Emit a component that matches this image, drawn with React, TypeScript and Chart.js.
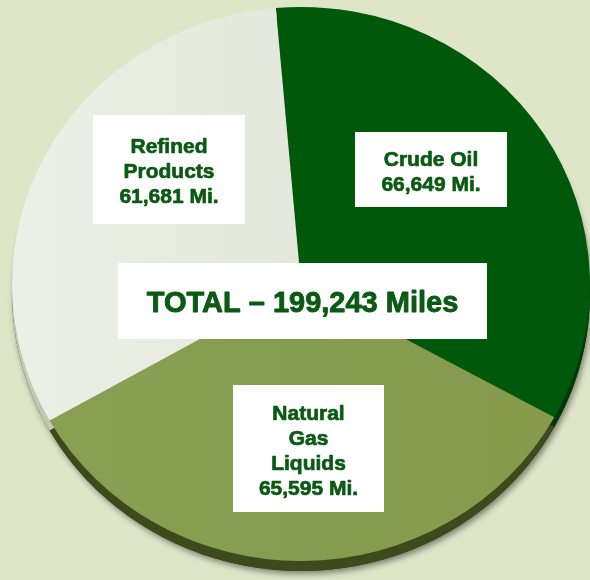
import React, { useEffect, useRef } from "react";
import { Chart, registerables } from "chart.js";

Chart.register(...registerables);

// ---- data ----
const categories = ["Crude Oil", "Natural Gas Liquids", "Refined Products"];
const miles = [66649, 65595, 61681];
const totalMiles = 199243;
const fmt = (n: number) => n.toLocaleString("en-US");
const labelLines: string[][] = [
  ["Crude Oil", `${fmt(miles[0])} Mi.`],
  ["Natural", "Gas", "Liquids", `${fmt(miles[1])} Mi.`],
  ["Refined", "Products", `${fmt(miles[2])} Mi.`],
];
const totalLabel = `TOTAL \u2013 ${fmt(totalMiles)} Miles`;

// ---- styles ----
const sliceColors = ["#00580a", "#889c4e", "#e7eadf"];
const rimColors = ["#003806", "#3d4a1b", "#c4c8b4"];
const bgColor = "#dfe6c8";
const textColor = "#0b5a13";
const FONT = '"Liberation Sans", Arial, sans-serif';
const STRETCH = 1.043;
const RIM = 10;

// label boxes [x, y, w, h]
const sliceBoxes = [
  [355, 132, 152, 75],
  [233, 385, 151, 127],
  [93, 115, 152, 109],
];
const totalBox = [118, 263, 369, 76];

function boldText(ctx: CanvasRenderingContext2D, t: string, x: number, y: number) {
  ctx.fillText(t, x, y);
  ctx.strokeText(t, x, y);
}

const pie3dPlugin = {
  id: "pie3d",
  beforeDatasetsDraw(chart: any) {
    const ctx = chart.ctx as CanvasRenderingContext2D;
    const meta = chart.getDatasetMeta(0);
    const a0 = meta.data[0] as any;
    const cx = a0.x;
    const cy = a0.y;
    const r = a0.outerRadius;
    ctx.save();
    ctx.translate(cx, 0);
    ctx.scale(STRETCH, 1);
    ctx.translate(-cx, 0);
    // rim + shadow
    ctx.save();
    ctx.shadowColor = "rgba(0,0,0,0.45)";
    ctx.shadowBlur = 6;
    ctx.shadowOffsetX = 2;
    ctx.shadowOffsetY = 3;
    ctx.beginPath();
    ctx.arc(cx, cy + RIM, r, 0, Math.PI * 2);
    ctx.fillStyle = rimColors[1];
    ctx.fill();
    ctx.restore();
    meta.data.forEach((a: any, i: number) => {
      ctx.beginPath();
      ctx.moveTo(cx, cy + RIM);
      ctx.arc(cx, cy + RIM, r, a.startAngle, a.endAngle);
      ctx.closePath();
      ctx.fillStyle = rimColors[i];
      ctx.fill();
    });
  },
  afterDatasetsDraw(chart: any) {
    const ctx = chart.ctx as CanvasRenderingContext2D;
    ctx.restore();
    ctx.save();
    ctx.textAlign = "center";
    ctx.textBaseline = "alphabetic";
    ctx.lineJoin = "round";
    // slice labels
    labelLines.forEach((lines, i) => {
      const [x, y, w, h] = sliceBoxes[i];
      ctx.fillStyle = "#ffffff";
      ctx.fillRect(x, y, w, h);
      ctx.fillStyle = textColor;
      ctx.strokeStyle = textColor;
      ctx.lineWidth = 0.7;
      ctx.font = `bold 21px ${FONT}`;
      const mid = y + h / 2 + 1;
      lines.forEach((t, j) => {
        const cyLine = mid + (j - (lines.length - 1) / 2) * 25;
        boldText(ctx, t, x + w / 2, cyLine + 7.5);
      });
    });
    // total
    const [tx, ty, tw, th] = totalBox;
    ctx.fillStyle = "#ffffff";
    ctx.fillRect(tx, ty, tw, th);
    ctx.fillStyle = textColor;
    ctx.strokeStyle = textColor;
    ctx.lineWidth = 0.9;
    ctx.font = `bold 29px ${FONT}`;
    boldText(ctx, totalLabel, tx + tw / 2, ty + th / 2 + 1 + 10.4);
    ctx.restore();
  },
};

export default function App() {
  const ref = useRef<HTMLCanvasElement | null>(null);
  useEffect(() => {
    if (!ref.current) return;
    const ctx0 = ref.current.getContext("2d")!;
    const refinedGrad = ctx0.createLinearGradient(20, 0, 300, 0);
    refinedGrad.addColorStop(0, "#edf0e6");
    refinedGrad.addColorStop(1, "#e4e7db");
    const ngGrad = ctx0.createLinearGradient(60, 0, 580, 0);
    ngGrad.addColorStop(0, "#89a052");
    ngGrad.addColorStop(0.5, "#859d50");
    ngGrad.addColorStop(1, "#889a4c");
    const chart = new Chart(ref.current, {
      type: "pie",
      data: {
        labels: categories,
        datasets: [
          {
            data: miles,
            backgroundColor: [sliceColors[0], ngGrad, refinedGrad],
            borderWidth: 0,
            hoverOffset: 0,
            clip: false as any,
          },
        ],
      },
      options: {
        responsive: false,
        animation: false,
        rotation: -5,
        layout: { padding: { left: 24, right: 12, top: 7, bottom: 19 } },
        plugins: {
          legend: { display: false },
          tooltip: { enabled: false },
        },
        events: [],
      },
      plugins: [pie3dPlugin],
    });
    return () => chart.destroy();
  }, []);
  return (
    <div
      style={{
        position: "absolute",
        left: 0,
        top: 0,
        width: 590,
        height: 580,
        background: bgColor,
        overflow: "hidden",
      }}
    >
      <canvas ref={ref} width={590} height={580} style={{ width: 590, height: 580, display: "block" }} />
    </div>
  );
}
